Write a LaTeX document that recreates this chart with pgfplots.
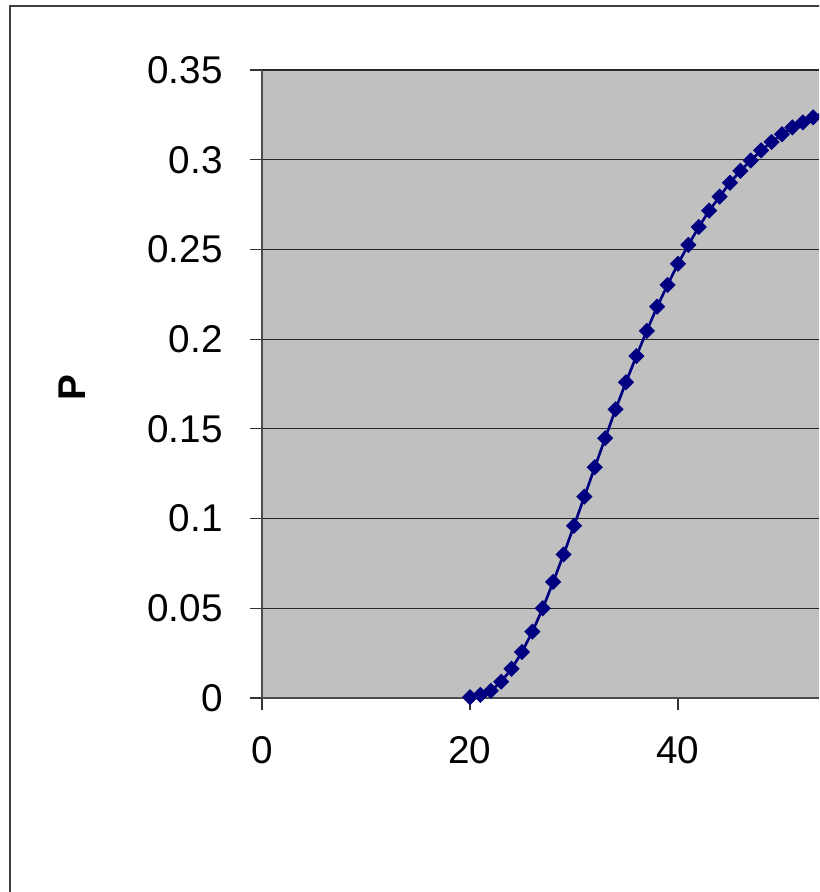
\documentclass[border=0pt]{standalone}
\usepackage{pgfplots}
\pgfplotsset{compat=1.18}
\usepackage{fontspec}
\setmainfont{Liberation Sans}
\definecolor{plotbg}{RGB}{192,192,192}
\definecolor{navy}{RGB}{0,0,128}
\begin{document}
\begin{tikzpicture}
% picture is 819 x 892 px at 0.75pt per px; axis origin sits at (262,698) px
\useasboundingbox (-196.5pt,-145.5pt) rectangle (417.75pt,523.5pt);
\clip (-196.5pt,-145.5pt) rectangle (417.75pt,523.5pt);
\draw[black!75, line width=1.2pt] (-189pt,-300pt) rectangle (600pt,519pt);
\begin{axis}[
    at={(0pt,0pt)}, anchor=origin,
    scale only axis,
    width=417.75pt, height=471pt,
    xmin=0, xmax=53.56,
    ymin=0, ymax=0.35,
    xtick={0,20,40},
    ytick={0,0.05,0.1,0.15,0.2,0.25,0.3,0.35},
    yticklabels={0,0.05,0.1,0.15,0.2,0.25,0.3,0.35},
    axis background/.style={fill=plotbg},
    axis x line*=bottom, axis y line*=left,
    axis line style={black!70, line width=1pt},
    tick align=outside,
    major tick length=9pt,
    tick style={black!80, line width=0.8pt},
    ymajorgrids,
    grid style={black!85, line width=0.8pt},
    tick label style={font=\fontsize{29}{31}\selectfont},
    /pgf/number format/assume math mode=true,
    xticklabel style={yshift=-16pt},
    yticklabel style={xshift=-17pt},
    ylabel={\textbf{P}},
    every axis y label/.style={at={(axis description cs:-0.341,0.494)}, rotate=90, anchor=center, font=\fontsize{29}{31}\selectfont},
]
\addplot[navy, line width=2pt, mark=square*, mark size=3.3pt, mark options={rotate=45, fill=navy, draw=navy}] coordinates {
    (20,0.0004) (21,0.0017) (22,0.0040) (23,0.0091) (24,0.0163)
    (25,0.0256) (26,0.0370) (27,0.0500) (28,0.0647) (29,0.0800)
    (30,0.0960) (31,0.1122) (32,0.1286) (33,0.1448) (34,0.1609)
    (35,0.1760) (36,0.1906) (37,0.2046) (38,0.2181) (39,0.2302)
    (40,0.2420) (41,0.2525) (42,0.2625) (43,0.2716) (44,0.2794)
    (45,0.2872) (46,0.2938) (47,0.2996) (48,0.3052) (49,0.3099)
    (50,0.3142) (51,0.3180) (52,0.3208) (53,0.3236) (54,0.3262)
};
\end{axis}
\end{tikzpicture}
\end{document}
